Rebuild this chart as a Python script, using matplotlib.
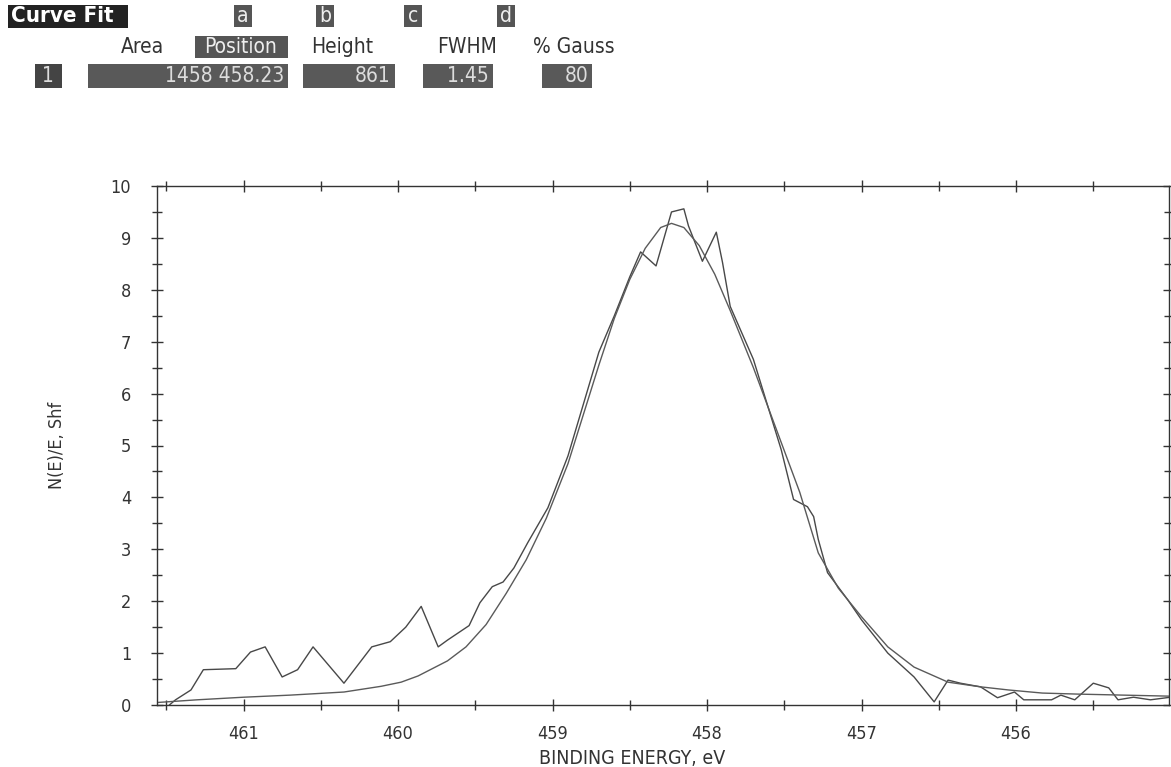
import matplotlib
matplotlib.use("Agg")
import matplotlib.pyplot as plt
from matplotlib.patches import Rectangle
from matplotlib.ticker import MultipleLocator

plt.rcParams["font.family"] = ["DejaVu Sans"]
plt.rcParams["font.stretch"] = "condensed"

# measured spectrum (binding energy in eV, counts scaled)
data_be = [461.50, 461.44, 461.34, 461.26, 461.05, 460.955, 460.86, 460.75, 460.65,
           460.55, 460.35, 460.17, 460.05, 459.95, 459.85, 459.74, 459.68, 459.54,
           459.47, 459.39, 459.32, 459.25, 459.16, 459.03, 458.90, 458.80, 458.70,
           458.60, 458.50, 458.43, 458.33, 458.23, 458.15, 458.12, 458.03, 457.94,
           457.90, 457.85, 457.70, 457.52, 457.44, 457.35, 457.31, 457.28, 457.22,
           457.09, 457.00, 456.83, 456.66, 456.53, 456.44, 456.36, 456.23, 456.12,
           456.01, 455.95, 455.77, 455.71, 455.62, 455.50, 455.40, 455.34, 455.24,
           455.13, 455.00]
data_y = [-0.05, 0.10, 0.29, 0.68, 0.70, 1.02, 1.12, 0.54, 0.68,
          1.12, 0.42, 1.12, 1.22, 1.50, 1.90, 1.12, 1.25, 1.53,
          1.97, 2.28, 2.37, 2.64, 3.13, 3.80, 4.80, 5.80, 6.80,
          7.50, 8.25, 8.73, 8.46, 9.50, 9.56, 9.23, 8.55, 9.11,
          8.53, 7.68, 6.66, 4.92, 3.96, 3.82, 3.63, 3.19, 2.55,
          2.03, 1.64, 1.00, 0.54, 0.06, 0.48, 0.42, 0.35, 0.14,
          0.25, 0.10, 0.10, 0.19, 0.10, 0.42, 0.33, 0.10, 0.15,
          0.10, 0.15]

# fitted peak
fit_be = [461.55, 461.3, 461.0, 460.7, 460.35, 460.11, 459.98, 459.87, 459.68, 459.56,
          459.43, 459.30, 459.17, 459.04, 458.9, 458.8, 458.7, 458.6, 458.5, 458.4,
          458.3, 458.23, 458.15, 458.05, 457.95, 457.85, 457.7, 457.55, 457.4, 457.28,
          457.15, 457.0, 456.83, 456.66, 456.44, 456.23, 456.05, 455.83, 455.6, 455.3,
          455.0]
fit_y = [0.05, 0.10, 0.15, 0.19, 0.25, 0.36, 0.44, 0.56, 0.85, 1.12,
         1.55, 2.15, 2.80, 3.60, 4.65, 5.60, 6.55, 7.45, 8.20, 8.80,
         9.20, 9.28, 9.20, 8.85, 8.30, 7.60, 6.50, 5.30, 4.10, 2.93,
         2.25, 1.70, 1.12, 0.73, 0.44, 0.35, 0.29, 0.23, 0.21, 0.19,
         0.17]

# header table
col_keys = ["a", "b", "c", "d"]
col_names = ["Area", "Position", "Height", "FWHM", "% Gauss"]
row_vals = ["1458 458.23", "861", "1.45", "80"]

W, H = 1171, 767
fig = plt.figure(figsize=(W / 100, H / 100), dpi=100)
ax = fig.add_axes([157 / W, 1 - 705 / H, (1169 - 157) / W, (705 - 186) / H])

ax.plot(data_be, data_y, color="#484848", lw=1.0)
ax.plot(fit_be, fit_y, color="#5a5a5a", lw=1.0)

ax.set_xlim(461.56, 455.01)
ax.set_ylim(0, 10)
ax.xaxis.set_major_locator(MultipleLocator(1))
ax.xaxis.set_minor_locator(MultipleLocator(0.5))
ax.yaxis.set_major_locator(MultipleLocator(1))
ax.yaxis.set_minor_locator(MultipleLocator(0.5))
ax.tick_params(which="both", direction="inout", length=9, width=1, color="#333",
               top=True, right=True, labelsize=13, labelcolor="#333")
ax.tick_params(which="minor", length=7)
ax.tick_params(axis="x", pad=10)
ax.tick_params(axis="y", pad=14)
for s in ax.spines.values():
    s.set_color("#333")
    s.set_linewidth(1.0)

ax.set_xlabel("BINDING ENERGY, eV", fontsize=14, color="#333")
ax.xaxis.set_label_coords(0.469, -0.085)
ax.set_ylabel("N(E)/E, Shf", fontsize=13, color="#333", labelpad=32)


# header drawn in pixel coordinates of the figure
def box(x0, x1, y0, y1, fc):
    fig.patches.append(Rectangle((x0 / W, 1 - y1 / H), (x1 - x0) / W, (y1 - y0) / H,
                                 transform=fig.transFigure, fc=fc, ec="none"))


def ftext(x, y, s, tc="#333", size=15, ha="left", weight="normal"):
    fig.text(x / W, 1 - y / H, s, fontsize=size, color=tc, ha=ha, va="center",
             weight=weight)


box(8, 128, 5, 28, "#222")
ftext(11, 16, "Curve Fit", tc="white", size=16, weight="bold")
for xc, k in zip([243, 325, 413, 506], col_keys):
    box(xc - 9, xc + 9, 5, 27, "#555")
    ftext(xc, 16, k, tc="#eee", ha="center")

box(195, 288, 36, 58, "#555")
for i, (xc, n) in enumerate(zip([142, 241, 342, 467, 574], col_names)):
    ftext(xc, 47, n, tc="#eee" if i == 1 else "#333", ha="center")

box(35, 62, 64, 88, "#444")
ftext(48, 76, "1", tc="#ddd", ha="center")
for (x0, x1), v in zip([(88, 288), (303, 395), (423, 493), (542, 592)], row_vals):
    box(x0, x1, 64, 88, "#595959")
    ftext(x1 - 4, 76, v, tc="#ddd", ha="right")

fig.savefig("out.png", dpi=100)
